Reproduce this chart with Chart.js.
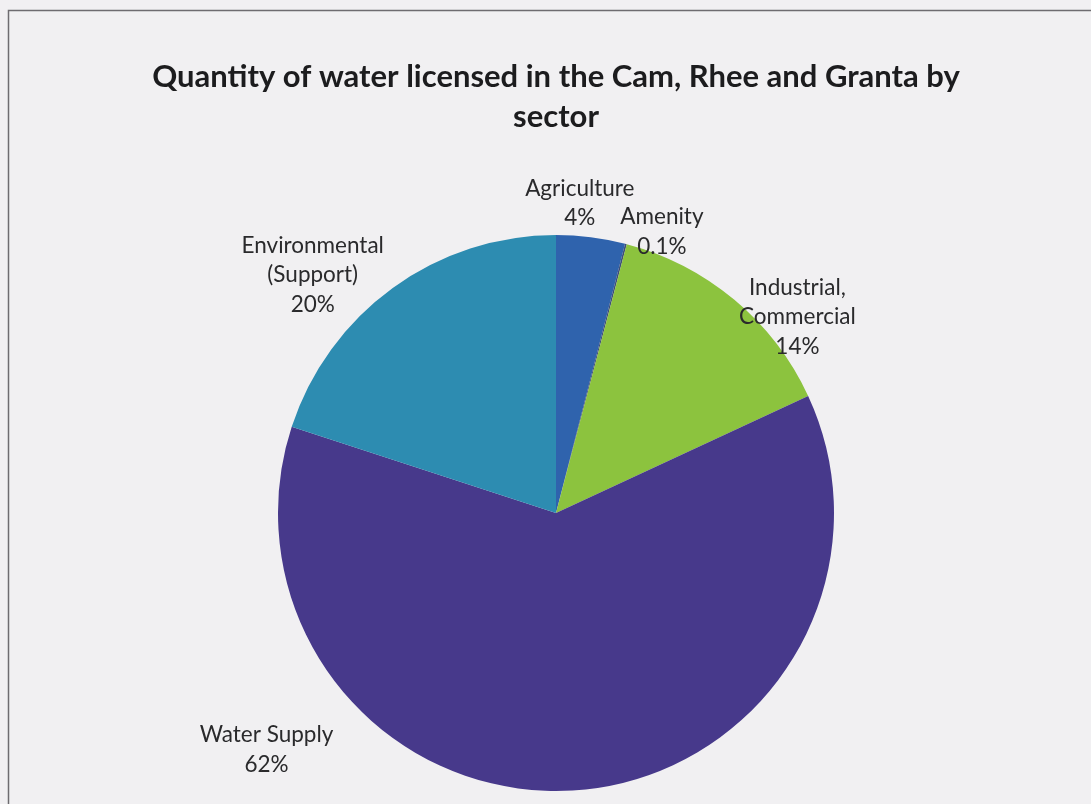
<!DOCTYPE html>
<html>
<head>
<meta charset="utf-8">
<script src="https://cdn.jsdelivr.net/npm/chart.js@4/dist/chart.umd.min.js"></script>
<style>
  html, body { margin: 0; padding: 0; background: #f1f0f2; }
  #wrap { width: 1091px; height: 804px; }
</style>
</head>
<body>
<div id="wrap"><canvas id="myChart"></canvas></div>
<script>
const sectors = ['Agriculture', 'Amenity', 'Industrial, Commercial', 'Water Supply', 'Environmental (Support)'];
const labelLines = [['Agriculture'], ['Amenity'], ['Industrial,', 'Commercial'], ['Water Supply'], ['Environmental', '(Support)']];
const shares = [4, 0.1, 14, 62, 20];
const colours = ['#2f63ad', '#3d4f7a', '#8cc33e', '#47398b', '#2d8cb1'];
// nudge from the slice's outer mid point to the label block centre
const labelNudge = [[-11, -34], [36, -12], [63, 17], [-306, -41], [-80, -13]];

const frame = {
  id: 'frame',
  beforeDraw(chart) {
    const c = chart.ctx;
    c.save();
    c.fillStyle = '#f1f0f2';
    c.fillRect(0, 0, chart.width, chart.height);
    c.strokeStyle = '#6e6c70';
    c.lineWidth = 1.5;
    c.beginPath();
    c.moveTo(8.5, chart.height);
    c.lineTo(8.5, 10.5);
    c.lineTo(chart.width, 10.5);
    c.stroke();
    c.restore();
  }
};

const sliceLabels = {
  id: 'sliceLabels',
  afterDatasetsDraw(chart) {
    const c = chart.ctx;
    const arcs = chart.getDatasetMeta(0).data;
    c.save();
    c.font = '22.5px Lato';
    c.fillStyle = '#2a2a2c';
    c.textAlign = 'center';
    c.textBaseline = 'middle';
    const lh = 29.5;
    arcs.forEach((arc, i) => {
      const mid = (arc.startAngle + arc.endAngle) / 2;
      const x = arc.x + Math.cos(mid) * arc.outerRadius + labelNudge[i][0];
      const y = arc.y + Math.sin(mid) * arc.outerRadius + labelNudge[i][1];
      const lines = labelLines[i].concat([shares[i] + '%']);
      const top = y - (lines.length - 1) * lh / 2;
      lines.forEach((t, k) => c.fillText(t, x, top + k * lh));
    });
    c.restore();
  }
};

const myChart = new Chart(document.getElementById('myChart'), {
  type: 'pie',
  data: {
    labels: sectors,
    datasets: [{
      data: shares,
      backgroundColor: colours,
      borderWidth: 0
    }]
  },
  options: {
    responsive: true,
    maintainAspectRatio: false,
    animation: false,
    layout: { padding: { top: 0, left: 21, right: 0, bottom: 13 } },
    plugins: {
      legend: { display: false },
      tooltip: { enabled: false },
      title: {
        display: true,
        text: ['Quantity of water licensed in the Cam, Rhee and Granta by', 'sector'],
        color: '#1c1c1e',
        font: { family: 'Lato', size: 31, weight: 'bold', lineHeight: 40 / 31 },
        padding: { top: 57, bottom: 98 }
      }
    }
  },
  plugins: [frame, sliceLabels]
});
</script>
</body>
</html>
